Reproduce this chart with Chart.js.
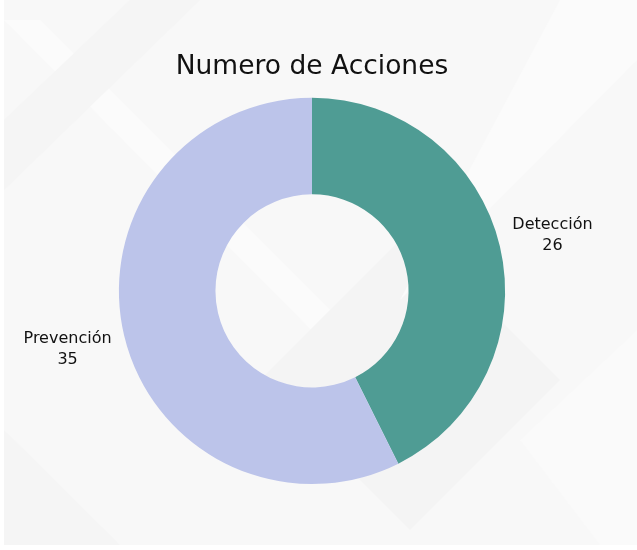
<!DOCTYPE html>
<html>
<head>
<meta charset="utf-8">
<script src="https://cdn.jsdelivr.net/npm/chart.js@4"></script>
<style>
  html, body { margin: 0; padding: 0; background: #ffffff; }
  #wrap { width: 637px; height: 550px; position: relative; }
</style>
</head>
<body>
<div id="wrap"><canvas id="chart" width="637" height="550"></canvas></div>
<script>
const categories = ["Detección", "Prevención"];
const acciones = [26, 35];
const sliceColors = ["#4F9C94", "#BCC4EA"];
const chartTitle = "Numero de Acciones";

const FONT = "'DejaVu Sans', sans-serif";

// soft grey background with faint diagonal shapes
const backdrop = {
  id: "backdrop",
  beforeDraw(chart) {
    const ctx = chart.ctx;
    ctx.save();
    ctx.fillStyle = "#ffffff";
    ctx.fillRect(0, 0, chart.width, chart.height);
    ctx.fillStyle = "#f8f8f8";
    ctx.fillRect(4, 0, chart.width - 4, 545);
    const shapes = [
      { c: "#fbfbfb", p: [[4, 20], [40, 20], [420, 400], [420, 440]] },
      { c: "#f4f4f4", p: [[410, 230], [560, 380], [410, 530], [260, 380]] },
      { c: "#f5f5f5", p: [[4, 120], [130, 0], [200, 0], [4, 190]] },
      { c: "#fbfbfb", p: [[560, 0], [637, 0], [637, 60], [400, 300]] },
      { c: "#f5f5f5", p: [[4, 430], [120, 545], [4, 545]] },
      { c: "#fafafa", p: [[520, 440], [637, 330], [637, 545], [600, 545]] }
    ];
    shapes.forEach(s => {
      ctx.fillStyle = s.c;
      ctx.beginPath();
      s.p.forEach((pt, i) => i ? ctx.lineTo(pt[0], pt[1]) : ctx.moveTo(pt[0], pt[1]));
      ctx.closePath();
      ctx.fill();
    });
    ctx.restore();
  }
};

// category name + value outside each slice
const outerLabels = {
  id: "outerLabels",
  afterDatasetsDraw(chart) {
    const ctx = chart.ctx;
    const meta = chart.getDatasetMeta(0);
    ctx.save();
    ctx.fillStyle = "#111111";
    ctx.font = "16px " + FONT;
    ctx.textAlign = "center";
    ctx.textBaseline = "middle";
    meta.data.forEach((arc, i) => {
      const mid = (arc.startAngle + arc.endAngle) / 2;
      const r = arc.outerRadius + 56;
      const x = arc.x + Math.cos(mid) * r - 2;
      const y = arc.y + Math.sin(mid) * r;
      ctx.fillText(categories[i], x, y - 9);
      ctx.fillText(String(acciones[i]), x, y + 12);
    });
    ctx.restore();
  }
};

new Chart(document.getElementById("chart"), {
  type: "doughnut",
  data: {
    labels: categories,
    datasets: [{
      data: acciones,
      backgroundColor: sliceColors,
      borderWidth: 0
    }]
  },
  options: {
    responsive: false,
    animation: false,
    cutout: "50%",
    layout: { padding: { top: 0, bottom: 66, left: 100, right: 113 } },
    plugins: {
      legend: { display: false },
      tooltip: { enabled: false },
      title: {
        display: true,
        text: chartTitle,
        color: "#111111",
        font: { family: FONT, size: 26.5, weight: "normal", lineHeight: 1.2 },
        padding: { top: 51, bottom: 15 }
      }
    }
  },
  plugins: [backdrop, outerLabels]
});
</script>
</body>
</html>
